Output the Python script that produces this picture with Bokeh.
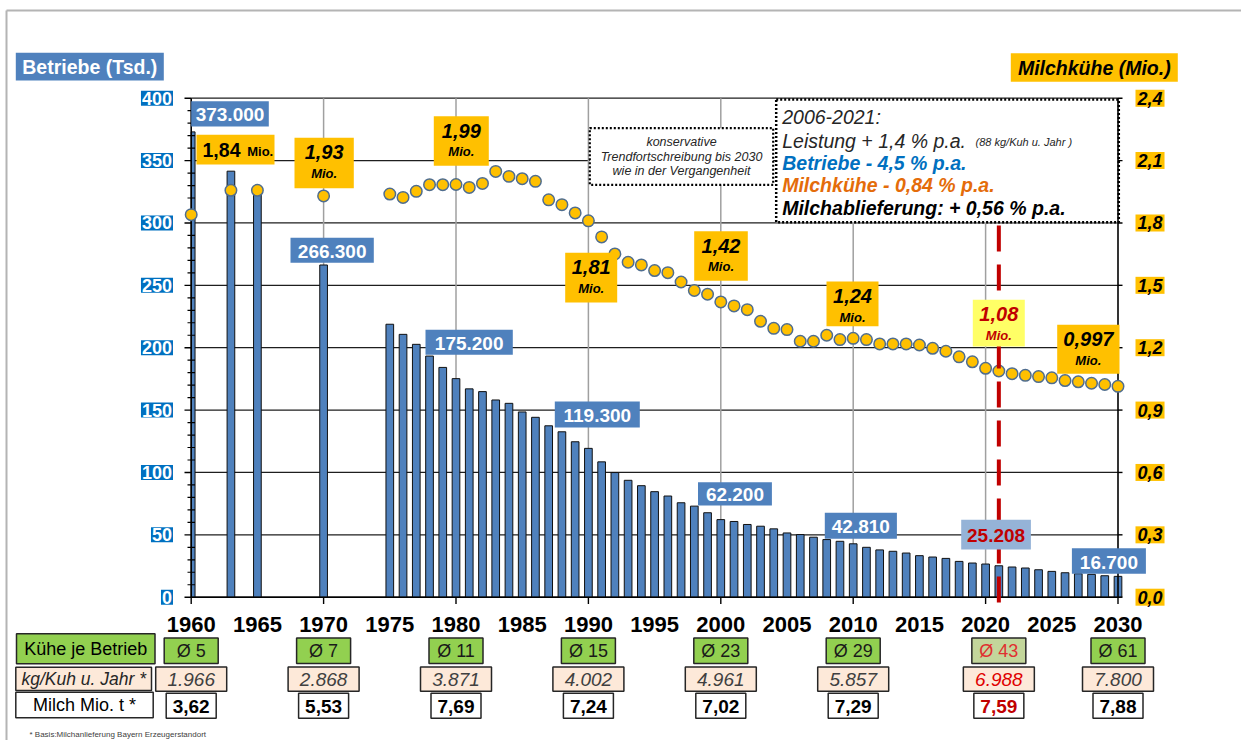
import numpy as np
from bokeh.plotting import figure
from bokeh.models import Range1d
from bokeh.embed import file_html
from bokeh.resources import INLINE
from bokeh.core.properties import value

# ---------------- data ----------------
bar_years = [1960, 1963, 1965, 1970] + list(range(1975, 2031))
betriebe_tsd = [373.0, 341.5, 322.8, 266.3,
                218.8, 210.7, 202.7, 193.3, 184.2,
                175.2, 167.0, 164.8, 158.1, 155.4,
                148.5, 144.2, 137.4, 132.6, 124.6,
                119.3, 108.5, 99.9, 93.7, 89.4,
                84.6, 81.1, 75.7, 73.0, 67.7,
                62.2, 60.7, 58.3, 56.9, 54.8,
                51.5, 50.2, 48.1, 46.2, 44.8,
                42.81, 40.0, 37.9, 36.8, 35.4,
                33.3, 32.2, 31.1, 28.7, 27.4,
                26.6, 25.208, 24.2, 23.4, 22.0,
                20.7, 19.6, 18.8, 18.3, 17.2, 16.7]
milchkuehe_mio = [1.84, 1.957, 1.957, 1.93,
                  1.939, 1.923, 1.952, 1.984, 1.984,
                  1.985, 1.971, 1.99, 2.048, 2.024,
                  2.013, 2.0, 1.911, 1.888, 1.848,
                  1.81, 1.733, 1.651, 1.611, 1.598,
                  1.571, 1.561, 1.516, 1.475, 1.457,
                  1.42, 1.401, 1.383, 1.327, 1.293,
                  1.287, 1.231, 1.231, 1.26, 1.239,
                  1.245, 1.239, 1.218, 1.218, 1.218,
                  1.213, 1.197, 1.183, 1.156, 1.132,
                  1.101, 1.088, 1.075, 1.067, 1.061,
                  1.055, 1.042, 1.036, 1.029, 1.023, 1.014]

label_years = [1960, 1970, 1980, 1990, 2000, 2010, 2021, 2030]
kuehe_labels = ["1,84", "1,93", "1,99", "1,81", "1,42", "1,24", "1,08", "0,997"]
marker_year = 2021

table_years = [1960, 1970, 1980, 1990, 2000, 2010, 2021, 2030]
kuehe_je_betrieb = [5, 7, 11, 15, 23, 29, 43, 61]
kg_je_kuh = [1966, 2868, 3871, 4002, 4961, 5857, 6988, 7800]
milch_mio_t = ["3,62", "5,53", "7,69", "7,24", "7,02", "7,29", "7,59", "7,88"]

left_ticks = list(range(0, 401, 50))
right_ticks = ["0,0", "0,3", "0,6", "0,9", "1,2", "1,5", "1,8", "2,1", "2,4"]
right_tick_vals = [0.0, 0.3, 0.6, 0.9, 1.2, 1.5, 1.8, 2.1, 2.4]
x_label_years = list(range(1960, 2031, 5))
x_tick_years = list(range(1960, 2031, 10))
vgrid_years = list(range(1970, 2021, 10))
minor_ticks = [v for v in range(0, 401, 10) if v % 50 != 0]

# ---------------- layout helpers (page pixels -> data) ----------------
W, H, OFF = 1241, 740, 0
X1960, PX_YEAR = 190.7, 13.24
Y_ZERO, PX_UNIT = 596.7, 1.2475
K = 2.4 / 400.0


def X(px):
    return 1960 + (px - X1960) / PX_YEAR


def Y(py):
    return (Y_ZERO - py) / PX_UNIT


FONT = value("Liberation Sans")

p = figure(width=W, height=H, output_backend="svg", toolbar_location=None, title=None,
           x_range=Range1d(X(OFF), X(OFF + W)), y_range=Range1d(Y(OFF + H), Y(OFF)),
           x_axis_type=None, y_axis_type=None, min_border=0,
           outline_line_color=None, background_fill_color="white", border_fill_color="white")
p.extra_y_ranges = {"cows": Range1d(Y(OFF + H) * K, Y(OFF) * K)}


def box(x0, x1, y0, y1, fill, line=None, lw=1.0, dash="solid"):
    p.quad(left=[X(x0)], right=[X(x1)], top=[Y(y0)], bottom=[Y(y1)],
           fill_color=fill, line_color=line, line_width=lw, line_dash=dash)


def txt(px, py, s, size, color="black", style="normal", align="center"):
    p.text(x=[X(px)], y=[Y(py)], text=[s], text_font=FONT, text_font_size=f"{size}px",
           text_font_style=style, text_color=color, text_align=align, text_baseline="middle")


# page border
p.segment(x0=[X(6)], x1=[X(1247)], y0=[Y(10)], y1=[Y(10)], line_color="#B4B4B4", line_width=2)
p.segment(x0=[X(6)], x1=[X(6)], y0=[Y(10)], y1=[Y(742)], line_color="#B4B4B4", line_width=2)

# grid
n = len(left_ticks)
p.segment(x0=[1960] * n, x1=[2030] * n, y0=left_ticks, y1=left_ticks, line_color="#1E1E1E", line_width=1.3)
m = len(vgrid_years)
p.segment(x0=vgrid_years, x1=vgrid_years, y0=[0] * m, y1=[400] * m, line_color="#A0A0A0", line_width=1.5)

# dotted text boxes (white background hides grid)
box(775.7, 1118.3, 99, 221.7, "white", "black", 2.5, "2 2")
box(589.3, 772.7, 127.7, 184.3, "white", "black", 2.2, "2 2")

# bars
yrs = np.array(bar_years, dtype=float)
BW = 0.58
p.quad(left=np.maximum(yrs - BW / 2, 1960), right=yrs + BW / 2, bottom=0, top=betriebe_tsd,
       fill_color="#4F81BD", line_color="#111111", line_width=1)

# axes lines and ticks
p.segment(x0=[1960, 2030], x1=[1960, 2030], y0=[0, 0], y1=[400, 400], line_color="black", line_width=1.6)
p.segment(x0=[1960], x1=[2030], y0=[0], y1=[0], line_color="black", line_width=1.6)
p.segment(x0=[X(184)] * n, x1=[1960] * n, y0=left_ticks, y1=left_ticks, line_color="black", line_width=1.4)
mm = len(minor_ticks)
p.segment(x0=[X(187)] * mm, x1=[X(194.5)] * mm, y0=minor_ticks, y1=minor_ticks, line_color="black", line_width=1.2)
rt = len(right_tick_vals)
p.segment(x0=[2030] * rt, x1=[X(1122)] * rt, y0=right_tick_vals, y1=right_tick_vals,
          line_color="black", line_width=1.4, y_range_name="cows")
xt = len(x_tick_years)
p.segment(x0=x_tick_years, x1=x_tick_years, y0=[0] * xt, y1=[Y(603.5)] * xt, line_color="black", line_width=1.4)

# milk cows dots
p.scatter(x=bar_years, y=milchkuehe_mio, y_range_name="cows", size=11.5,
          fill_color="#FFC000", line_color="#4F6D8F", line_width=1.5)

# red dashed marker
p.segment(x0=[marker_year], x1=[marker_year], y0=[Y(225)], y1=[Y(611)],
          line_color="#C00000", line_width=4, line_dash="26 13")

# tick labels
p.text(x=[X(172.5)] * n, y=left_ticks, text=[str(v) for v in left_ticks], text_font=FONT,
       text_font_size="18px", text_font_style="bold", text_color="white", text_align="right",
       text_baseline="middle", background_fill_color="#0070C0", padding=1)
p.text(x=[X(1135)] * rt, y=right_tick_vals, text=right_ticks, text_font=FONT, y_range_name="cows",
       text_font_size="18px", text_font_style="bold italic", text_color="black", text_align="left",
       text_baseline="middle", background_fill_color="#FFC000", padding=2)
p.text(x=x_label_years, y=[Y(623.5)] * len(x_label_years), text=[str(v) for v in x_label_years],
       text_font=FONT, text_font_size="22px", text_font_style="bold", text_color="black",
       text_align="center", text_baseline="middle")

# axis titles
box(15.3, 163.3, 52.3, 80, "#4F81BD")
txt(89.3, 66.5, "Betriebe (Tsd.)", 19.5, "white", "bold")
box(1010.3, 1177.3, 52.7, 81.3, "#FFC000")
txt(1093.8, 67.5, "Milchkühe (Mio.)", 19.5, "black", "bold italic")

# Betriebe value labels
blue_boxes = [(190.7, 268.3, 100.7, 126.0), (290, 373.3, 237.3, 262.3), (425, 512.3, 329.3, 354.3),
              (554.3, 639.3, 401, 427), (697.5, 771.4, 481.7, 505), (824.3, 896.4, 512.3, 538.3),
              (960.7, 1030.4, 519.3, 549), (1071.4, 1145.4, 547.7, 573.3)]
for yr, (x0, x1, y0, y1) in zip(label_years, blue_boxes):
    v = betriebe_tsd[bar_years.index(yr)]
    s = f"{round(v * 1000):,}".replace(",", ".")
    hl = yr == marker_year
    box(x0, x1, y0, y1, "#95B3D7" if hl else "#4F81BD")
    txt((x0 + x1) / 2, (y0 + y1) / 2 + 1, s, 19, "#C00000" if hl else "white", "bold")

# Milchkühe value labels
orange_boxes = [(196, 274, 134.3, 164), (294, 353.3, 137.3, 187.7), (433.3, 488.3, 115.7, 165.3),
                (564.7, 616.7, 252.3, 302), (693.7, 747.3, 230.7, 280.3), (826, 878, 281, 325.7),
                (972.3, 1024.3, 299.3, 346), (1056.7, 1119, 324.3, 373.3)]
for i, (yr, s, (x0, x1, y0, y1)) in enumerate(zip(label_years, kuehe_labels, orange_boxes)):
    hl = yr == marker_year
    box(x0, x1, y0, y1, "#FFFF66" if hl else "#FFC000")
    col = "#C00000" if hl else "black"
    if i == 0:
        txt(221, 149.5, s, 19.5, col, "bold")
        txt(259.7, 151, "Mio.", 13, col, "bold")
    else:
        txt((x0 + x1) / 2, y0 + 14.5, s, 20, col, "bold italic")
        txt((x0 + x1) / 2, y0 + 35.5, "Mio.", 13, col, "bold italic")

# text boxes content
for k, line in enumerate(["konservative", "Trendfortschreibung bis 2030", "wie in der Vergangenheit"]):
    txt(681, 141.5 + k * 14.7, line, 12.5, "#262626", "italic")
txt(781.7, 116.5, "2006-2021:", 19.5, "#262626", "italic", "left")
txt(781.7, 140.5, "Leistung + 1,4 % p.a.", 19.5, "#262626", "italic", "left")
txt(975, 141.5, "(88 kg/Kuh u. Jahr )", 11, "#262626", "italic", "left")
txt(781.7, 162, "Betriebe - 4,5 % p.a.", 19.5, "#0070C0", "bold italic", "left")
txt(781.7, 184.5, "Milchkühe - 0,84 % p.a.", 19.5, "#E46C0A", "bold italic", "left")
txt(781.7, 207.5, "Milchablieferung: + 0,56 % p.a.", 19.5, "black", "bold italic", "left")

# table
box(16, 154.5, 633.3, 663.3, "#92D050", "#262626", 1.5)
txt(85.2, 648.5, "Kühe je Betrieb", 18, "black")
box(15.3, 151, 666.7, 690, "#FDE9D9", "#262626", 1.5)
txt(83.2, 678.5, "kg/Kuh u. Jahr *", 17.5, "#262626", "italic")
box(15.3, 152.7, 691.7, 717.3, "white", "#262626", 1.5)
txt(84, 704.5, "Milch Mio. t *", 18, "black")

for yr, kb, kg, mt in zip(table_years, kuehe_je_betrieb, kg_je_kuh, milch_mio_t):
    cx = X1960 + (yr - 1960) * PX_YEAR
    hl = yr == marker_year
    box(cx - 27, cx + 27, 637.5, 663, "#C3D69B" if hl else "#92D050", "#262626", 1.5)
    txt(cx, 650.5, f"Ø {kb}", 18, "#E03030" if hl else "#1A1A1A")
    box(cx - 35.5, cx + 35.5, 666.5, 690.8, "#FDE9D9", "#262626", 1.5)
    txt(cx, 679, f"{kg:,}".replace(",", "."), 19, "#E00000" if hl else "#404040", "italic")
    box(cx - 25, cx + 25, 692.8, 717.8, "white", "#262626", 1.5)
    txt(cx, 705.5, mt, 19, "#C00000" if hl else "black", "bold")

txt(29, 734, "* Basis:Milchanlieferung Bayern Erzeugerstandort", 8, "#404040", "normal", "left")

open("out.html", "w").write(file_html(p, INLINE, title="Milchviehbetriebe Bayern"))
